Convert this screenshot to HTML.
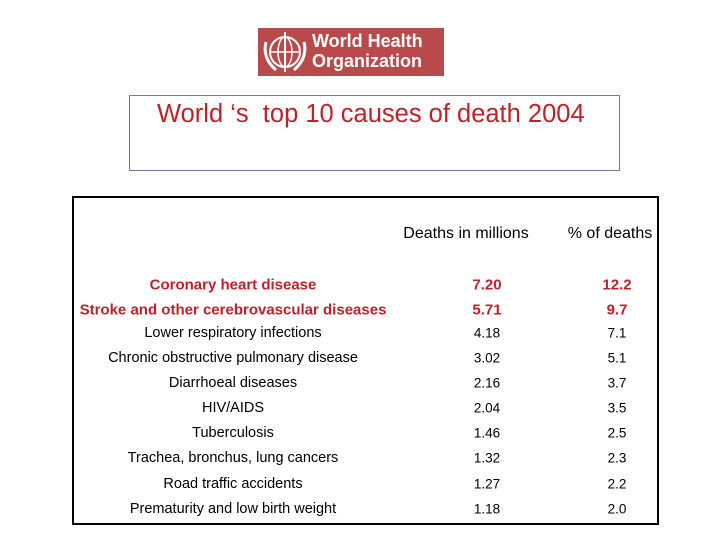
<!DOCTYPE html>
<html><head><meta charset="utf-8"><style>
body{margin:0;width:720px;height:540px;background:#fff;position:relative;overflow:hidden;font-family:"Liberation Sans",sans-serif}
.a{position:absolute;white-space:nowrap}
.c{transform:translate(-50%,-50%)}
.r{color:#c0202a;font-size:15px;font-weight:bold}
.k{color:#000;font-size:14.5px}
.n{font-size:13.5px}
</style></head><body>
<div class="a" style="left:258px;top:28px;width:186px;height:48px;background:#b94a4c;">
<svg width="50" height="48" style="position:absolute;left:2px;top:0"><circle cx="25" cy="24" r="15" fill="none" stroke="#fff" stroke-width="2"/><ellipse cx="25" cy="24" rx="7" ry="15" fill="none" stroke="#fff" stroke-width="1.5"/><line x1="10" y1="24" x2="40" y2="24" stroke="#fff" stroke-width="1.5"/><line x1="25" y1="4" x2="25" y2="44" stroke="#fff" stroke-width="2"/><path d="M6 14 Q2 30 16 42 M44 14 Q48 30 34 42" fill="none" stroke="#fff" stroke-width="3"/></svg>
<div class="a" style="left:54px;top:3px;color:#fff;font-weight:bold;font-size:18px;line-height:20px">World Health<br>Organization</div>
</div>
<div class="a" style="left:129px;top:95px;width:489px;height:74px;border:1px solid #6a7f99"></div>
<div class="a" style="left:157px;top:100px;font-size:25.5px;color:#c0202a">World ‘s&nbsp; top 10 causes of death 2004</div>
<div class="a" style="left:72px;top:196px;width:583px;height:325px;border:2px solid #000"></div>
<div class="a c k" style="left:466px;top:234px;font-size:16px">Deaths in millions</div>
<div class="a c k" style="left:610px;top:234px;font-size:16px">% of deaths</div>
<div id="rows"></div>
<script>
const causes=["Coronary heart disease","Stroke and other cerebrovascular diseases","Lower respiratory infections","Chronic obstructive pulmonary disease","Diarrhoeal diseases","HIV/AIDS","Tuberculosis","Trachea, bronchus, lung cancers","Road traffic accidents","Prematurity and low birth weight"];
const deaths=["7.20","5.71","4.18","3.02","2.16","2.04","1.46","1.32","1.27","1.18"];
const percents=["12.2","9.7","7.1","5.1","3.7","3.5","2.5","2.3","2.2","2.0"];
const ys=[285,310,333,358,383,408,433,458,484,509];
const host=document.getElementById('rows');
causes.forEach((c,i)=>{
 const cls=i<2?'a c r':'a c k';
 const l=document.createElement('div');l.className=cls;l.style.left='233px';l.style.top=ys[i]+'px';l.textContent=c;
 
 
 host.appendChild(l);
 const d=document.createElement('div');d.className=cls+(i<2?'':' n');d.style.left='487px';d.style.top=ys[i]+'px';d.textContent=deaths[i];
 
 
 host.appendChild(d);
 const p=document.createElement('div');p.className=cls+(i<2?'':' n');p.style.left='617px';p.style.top=ys[i]+'px';p.textContent=percents[i];
 
 
 host.appendChild(p);
});
</script>
</body></html>
